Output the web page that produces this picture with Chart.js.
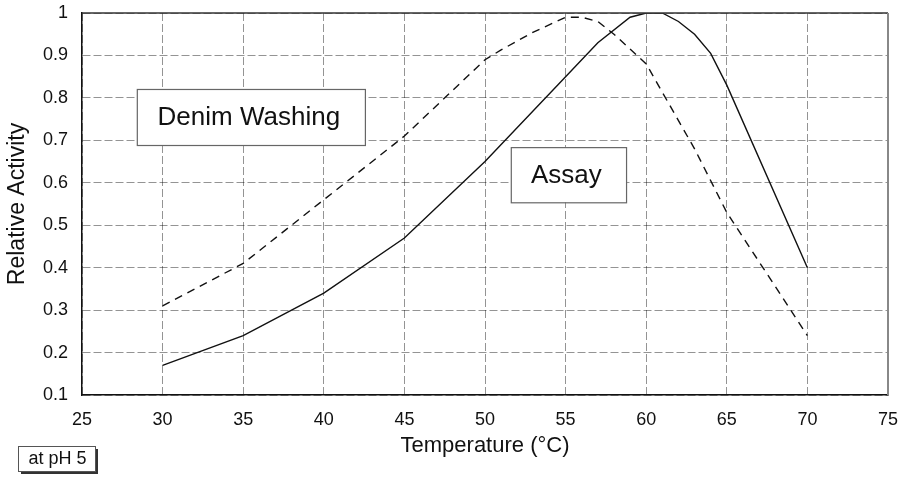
<!DOCTYPE html>
<html>
<head>
<meta charset="utf-8">
<script src="https://cdn.jsdelivr.net/npm/chart.js@4/dist/chart.umd.min.js"></script>
<style>
  html, body { margin: 0; padding: 0; background: #fff; }
  canvas { display: block; }
</style>
</head>
<body>
<canvas id="c" width="904" height="477"></canvas>
<script>
// ---- data ----
const assayTemps   = [30, 35, 40, 45, 50, 55, 57, 59, 60, 61, 62, 63, 64, 65, 70];
const assayValues  = [0.17, 0.24, 0.34, 0.47, 0.65, 0.85, 0.93, 0.99, 1.0, 1.0, 0.98, 0.95, 0.905, 0.83, 0.40];
const denimTemps   = [30, 35, 40, 45, 50, 51, 53, 55, 56, 57, 58, 60, 63, 65, 70];
const denimValues  = [0.31, 0.41, 0.56, 0.71, 0.89, 0.913, 0.955, 0.99, 0.99, 0.98, 0.95, 0.88, 0.68, 0.53, 0.24];
const xTickValues  = [25, 30, 35, 40, 45, 50, 55, 60, 65, 70, 75];
const yTickLabels  = ['0.1','0.2','0.3','0.4','0.5','0.6','0.7','0.8','0.9','1'];
const seriesNames  = ['Assay', 'Denim Washing'];
const xTitle = 'Temperature (°C)';
const yTitle = 'Relative Activity';
const footNote = 'at pH 5';

const toPoints = (xs, ys) => xs.map((x, i) => ({x, y: ys[i]}));

// text boxes placed in data coordinates
const boxes = [
  { text: 'Denim Washing', x0: 28.4, x1: 42.55, y0: 0.689, y1: 0.821 },
  { text: 'Assay',         x0: 51.6, x1: 58.75, y0: 0.554, y1: 0.684 }
];

Chart.defaults.font.family = '"Liberation Sans", Arial, sans-serif';
Chart.defaults.color = '#111';

const decor = {
  id: 'decor',
  afterDatasetsDraw(chart) {
    const {ctx, chartArea: a, scales: {x, y}} = chart;
    ctx.save();
    ctx.setLineDash([]);
    ctx.strokeStyle = '#333';
    ctx.lineWidth = 1.5;
    ctx.beginPath(); ctx.moveTo(a.left, a.top); ctx.lineTo(a.right, a.top); ctx.stroke();
    ctx.strokeStyle = '#888';
    ctx.lineWidth = 2;
    ctx.beginPath(); ctx.moveTo(a.right, a.top); ctx.lineTo(a.right, a.bottom); ctx.stroke();
    ctx.font = '26px "Liberation Sans", Arial, sans-serif';
    ctx.textAlign = 'center';
    ctx.textBaseline = 'middle';
    boxes.forEach(b => {
      const l = x.getPixelForValue(b.x0), r = x.getPixelForValue(b.x1);
      const t = y.getPixelForValue(b.y1), btm = y.getPixelForValue(b.y0);
      ctx.fillStyle = '#fff';
      ctx.fillRect(l, t, r - l, btm - t);
      ctx.strokeStyle = '#666';
      ctx.lineWidth = 1.2;
      ctx.strokeRect(l + 0.5, t + 0.5, r - l, btm - t);
      ctx.fillStyle = '#111';
      ctx.fillText(b.text, (l + r) / 2 - 2, (t + btm) / 2 + 1);
    });
    const fl = 18, ft = 446, fw = 77, fh = 25;
    ctx.fillStyle = '#333';
    ctx.fillRect(fl + 3, ft + 3, fw, fh);
    ctx.fillStyle = '#fff';
    ctx.fillRect(fl, ft, fw, fh);
    ctx.strokeStyle = '#555';
    ctx.lineWidth = 1;
    ctx.strokeRect(fl + 0.5, ft + 0.5, fw, fh);
    ctx.fillStyle = '#111';
    ctx.font = '18px "Liberation Sans", Arial, sans-serif';
    ctx.fillText(footNote, fl + fw / 2 + 1, ft + fh / 2 + 1);
    ctx.restore();
  }
};

new Chart(document.getElementById('c'), {
  type: 'scatter',
  data: {
    datasets: [
      {
        label: seriesNames[0],
        data: toPoints(assayTemps, assayValues),
        showLine: true, borderColor: '#111', borderWidth: 1.4,
        pointRadius: 0, tension: 0, fill: false
      },
      {
        label: seriesNames[1],
        data: toPoints(denimTemps, denimValues),
        showLine: true, borderColor: '#111', borderWidth: 1.4, borderDash: [8, 6],
        pointRadius: 0, tension: 0, fill: false
      }
    ]
  },
  options: {
    responsive: false,
    animation: false,
    devicePixelRatio: 1,
    layout: { padding: { top: 13, right: 16, bottom: 0, left: 0 } },
    plugins: { legend: { display: false }, tooltip: { enabled: false } },
    scales: {
      x: {
        type: 'linear', min: 25, max: 75,
        afterBuildTicks: s => { s.ticks = xTickValues.map(v => ({value: v})); },
        afterFit: s => { s.height = 82; s.paddingLeft = 0; s.paddingRight = 0; },
        ticks: { font: { size: 18 }, padding: 14, color: '#111', maxRotation: 0 },
        grid: { color: 'rgba(0,0,0,0.42)', drawTicks: false, lineWidth: 1 },
        border: { color: '#111', width: 1.5, dash: [8, 3] },
        title: { display: true, text: xTitle, font: { size: 22 }, color: '#111', padding: { top: 0, bottom: 18 } }
      },
      y: {
        type: 'linear', min: 0.1, max: 1,
        afterBuildTicks: s => { s.ticks = yTickLabels.map(v => ({value: parseFloat(v)})); },
        afterFit: s => { s.width = 82; s.paddingTop = 0; s.paddingBottom = 0; },
        ticks: { font: { size: 18 }, padding: 14, color: '#111',
                 callback: (v, i) => yTickLabels[i] },
        grid: { color: 'rgba(0,0,0,0.42)', drawTicks: false, lineWidth: 1 },
        border: { color: '#111', width: 1.5, dash: [8, 3] },
        title: { display: true, text: yTitle, font: { size: 23 }, color: '#111', padding: { top: 4, bottom: 0 } }
      }
    }
  },
  plugins: [decor]
});
</script>
</body>
</html>
